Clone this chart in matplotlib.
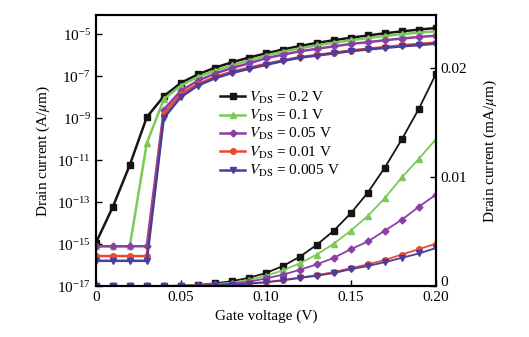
import numpy as np
import matplotlib
matplotlib.use("Agg")
import matplotlib.pyplot as plt
import matplotlib.transforms as mtransforms

plt.rcParams['font.family'] = ['Liberation Serif', 'DejaVu Serif']
plt.rcParams['mathtext.fontset'] = 'stix'

# gate voltage (V)
vg = [0.00, 0.01, 0.02, 0.03, 0.04, 0.05, 0.06, 0.07, 0.08, 0.09, 0.10,
      0.11, 0.12, 0.13, 0.14, 0.15, 0.16, 0.17, 0.18, 0.19, 0.20]

# drain current (A/um)
id_02 = [1.1e-15, 5.8e-14, 5.8e-12, 1.1e-9, 1.1e-8, 4.7e-8, 1.2e-7, 2.5e-7, 4.5e-7, 7.6e-7, 1.2e-6,
         1.84e-6, 2.7e-6, 3.8e-6, 5.1e-6, 6.7e-6, 8.6e-6, 10.9e-6, 13.5e-6, 16.3e-6, 19.5e-6]
id_01 = [7.9e-16, 7.9e-16, 7.9e-16, 6.3e-11, 7.9e-9, 3.5e-8, 9e-8, 1.8e-7, 3.2e-7, 5.5e-7, 0.95e-6,
         1.45e-6, 2.1e-6, 2.9e-6, 3.9e-6, 5.1e-6, 6.45e-6, 8.1e-6, 10.0e-6, 11.7e-6, 13.5e-6]
id_005 = [7.9e-16, 7.9e-16, 7.9e-16, 7.9e-16, 2.5e-9, 2e-8, 6e-8, 1.3e-7, 2.4e-7, 4e-7, 0.7e-6,
          1.05e-6, 1.5e-6, 2.0e-6, 2.6e-6, 3.4e-6, 4.1e-6, 5.1e-6, 6.1e-6, 7.3e-6, 8.4e-6]
id_001 = [2.7e-16, 2.7e-16, 2.7e-16, 2.7e-16, 1.6e-9, 1.4e-8, 4.2e-8, 9e-8, 1.6e-7, 2.5e-7, 3.8e-7,
          5.6e-7, 0.8e-6, 1.0e-6, 1.3e-6, 1.65e-6, 2.0e-6, 2.4e-6, 2.9e-6, 3.4e-6, 3.9e-6]
id_0005 = [1.6e-16, 1.6e-16, 1.6e-16, 1.6e-16, 1e-9, 1e-8, 3.5e-8, 7.8e-8, 1.4e-7, 2.2e-7, 3.4e-7,
           5.2e-7, 0.75e-6, 0.95e-6, 1.2e-6, 1.55e-6, 1.85e-6, 2.2e-6, 2.6e-6, 3.0e-6, 3.5e-6]

labels = ['0.2', '0.1', '0.05', '0.01', '0.005']
series = [id_02, id_01, id_005, id_001, id_0005]
colors = ['#151515', '#7cc95a', '#8b3fa6', '#ea4a2e', '#4b3d9c']
markers = ['s', '^', 'D', 'o', 'v']
msizes = [4, 4, 3.5, 4, 4.5]

fig = plt.figure(figsize=(5.29, 3.37), dpi=100)
ax = fig.add_axes([0.181, 0.151, 0.643, 0.804])
ax2 = ax.twinx()

handles = []
for cur, lab, c, m, ms in zip(series, labels, colors, markers, msizes):
    h, = ax.semilogy(vg, cur, color=c, marker=m, ms=ms, lw=1.8,
                     label=r'$V_{\rm DS}$ = ' + lab + ' V')
    handles.append(h)
    ax2.plot(vg, np.array(cur) * 1e3, color=c, marker=m, ms=ms, lw=1.3)

ax.set_xlim(0, 0.2)
ax.set_ylim(1e-17, 10 ** -4.1)
ax.set_yticks([1e-17, 1e-15, 1e-13, 1e-11, 1e-9, 1e-7, 1e-5])
ax.yaxis.set_minor_locator(matplotlib.ticker.NullLocator())
ax.set_xticks([0, 0.05, 0.10, 0.15, 0.20])
ax.set_xticklabels(['0', '0.05', '0.10', '0.15', '0.20'])
ax2.set_ylim(0, 0.0249)
ax2.set_yticks([0, 0.01, 0.02])
ax2.set_yticklabels(['0', '0.01', '0.02'])

for a in (ax, ax2):
    a.tick_params(direction='in', labelsize=11, length=4, width=1)
    for s in a.spines.values():
        s.set_linewidth(1.5)

# lift the right-hand "0" a little so it clears the "0.20" below it
zero_lbl = ax2.get_yticklabels()[0]
zero_lbl.set_transform(zero_lbl.get_transform() +
                       mtransforms.ScaledTranslation(0, 4 / 72, fig.dpi_scale_trans))

ax.set_xlabel('Gate voltage (V)', fontsize=11)
ax.set_ylabel(r'Drain current (A/$\mu$m)', fontsize=11)
ax2.set_ylabel(r'Drain current (mA/$\mu$m)', fontsize=11, labelpad=10)

ax.legend(handles=handles, loc='upper left', bbox_to_anchor=(0.335, 0.765),
          frameon=False, fontsize=11, handlelength=1.6, handletextpad=0.3,
          labelspacing=0.15, borderpad=0.2)

fig.savefig('out.png', dpi=100)
